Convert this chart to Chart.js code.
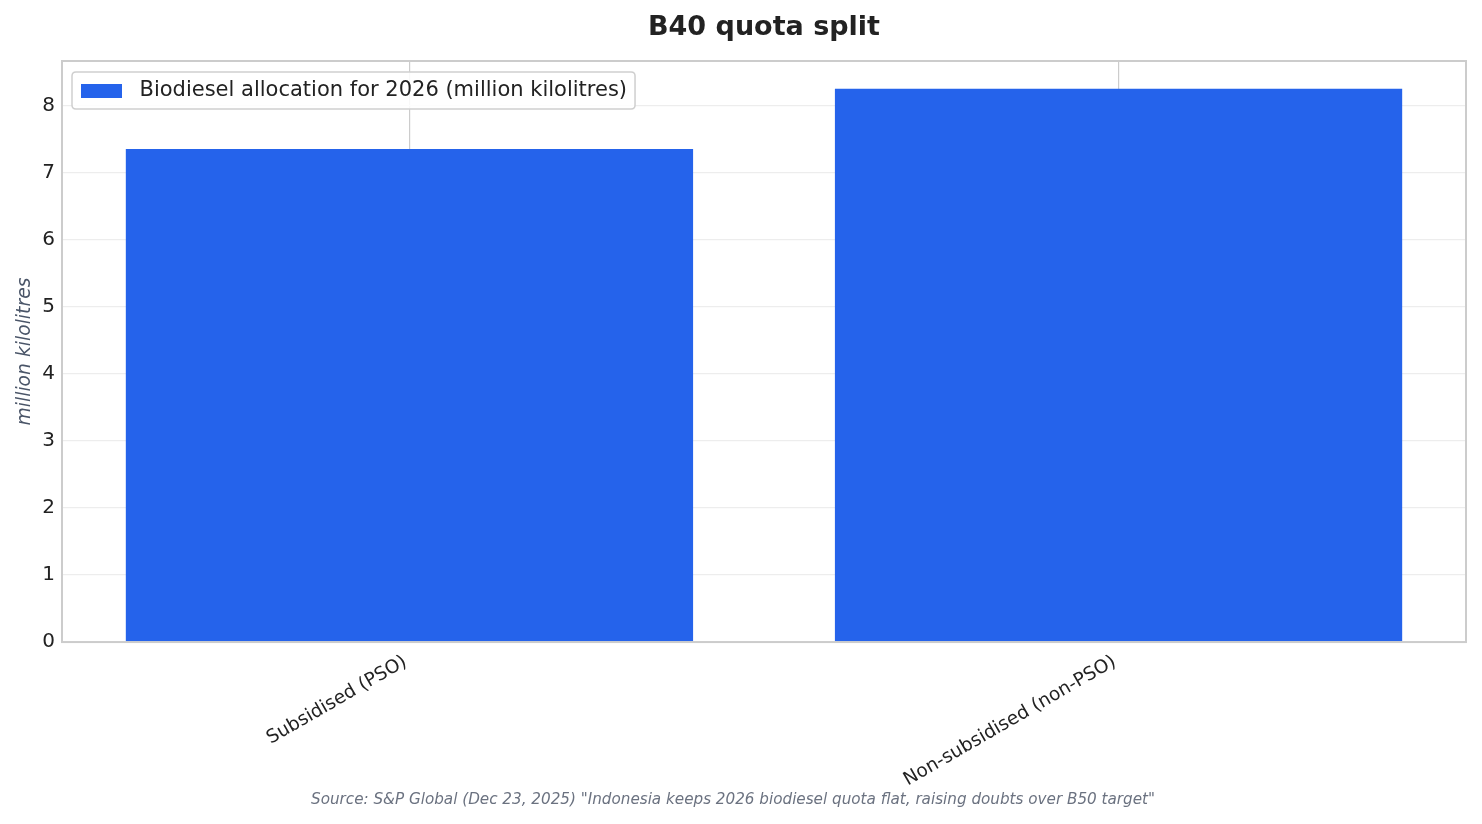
<!DOCTYPE html>
<html>
<head>
<meta charset="utf-8">
<script src="https://cdn.jsdelivr.net/npm/chart.js@4.4.1/dist/chart.umd.min.js"></script>
<style>
  html, body { margin: 0; padding: 0; background: #ffffff; }
  #wrap { width: 1482px; height: 824px; }
</style>
</head>
<body>
<div id="wrap"><canvas id="c" width="1482" height="824"></canvas></div>
<script>
// ---- data ----
const categories = ["Subsidised (PSO)", "Non-subsidised (non-PSO)"];
const allocation = [7.35, 8.25];
const seriesLabel = "Biodiesel allocation for 2026 (million kilolitres)";
const yTicks = [0, 1, 2, 3, 4, 5, 6, 7, 8];
const chartTitle = "B40 quota split";
const yAxisTitle = "million kilolitres";
const sourceText = 'Source: S&P Global (Dec 23, 2025) "Indonesia keeps 2026 biodiesel quota flat, raising doubts over B50 target"';

const FONT = "'DejaVu Sans', 'Liberation Sans', sans-serif";
const BAR_COLOR = "#2563eb";
const LEG_PAD = 19;

// legend swatch drawn on a small canvas (swatch + spacing)
const swatch = document.createElement('canvas');
swatch.width = 48; swatch.height = 14;
(function () {
  const g = swatch.getContext('2d');
  g.fillStyle = BAR_COLOR;
  g.fillRect(0, 0, 41, 14);
})();

const yMax = Math.max(...allocation) * 1.05;

const framePlugin = {
  id: 'framePlugin',
  beforeLayout(chart) {
    const lg = chart.legend;
    if (lg && !lg._zPatched) {
      lg._layers = () => [{ z: 1, draw: (ca) => lg.draw(ca) }];
      lg._zPatched = true;
    }
  },
  afterLayout(chart) {
    const lg = chart.legend;
    const a = chart.chartArea;
    if (lg && a) {
      lg.top = a.top;
      lg.bottom = a.bottom;
      lg.left = a.left;
    }
  },
  afterDatasetsDraw(chart) {
    const ctx = chart.ctx;
    const a = chart.chartArea;
    ctx.save();
    // axes frame
    ctx.strokeStyle = '#cccccc';
    ctx.lineWidth = 2;
    ctx.strokeRect(a.left, a.top, a.right - a.left, a.bottom - a.top);
    // legend frame
    const lg = chart.legend;
    if (lg && lg.legendHitBoxes && lg.legendHitBoxes.length) {
      const hb = lg.legendHitBoxes[0];
      const x = a.left + LEG_PAD - 9, y = a.top + LEG_PAD - 8, w = hb.width + 17, h = 37, r = 4;
      ctx.beginPath();
      ctx.moveTo(x + r, y);
      ctx.lineTo(x + w - r, y);
      ctx.quadraticCurveTo(x + w, y, x + w, y + r);
      ctx.lineTo(x + w, y + h - r);
      ctx.quadraticCurveTo(x + w, y + h, x + w - r, y + h);
      ctx.lineTo(x + r, y + h);
      ctx.quadraticCurveTo(x, y + h, x, y + h - r);
      ctx.lineTo(x, y + r);
      ctx.quadraticCurveTo(x, y, x + r, y);
      ctx.closePath();
      ctx.fillStyle = 'rgba(255,255,255,0.85)';
      ctx.fill();
      ctx.strokeStyle = '#cfcfcf';
      ctx.lineWidth = 1.5;
      ctx.stroke();
    }
    ctx.restore();
  }
};

new Chart(document.getElementById('c'), {
  type: 'bar',
  data: {
    datasets: [{
      label: seriesLabel,
      data: categories.map((c, i) => ({ x: i, y: allocation[i] })),
      backgroundColor: BAR_COLOR,
      borderWidth: 0,
      barPercentage: 0.8,
      categoryPercentage: 1.0
    }]
  },
  options: {
    responsive: false,
    animation: false,
    devicePixelRatio: 1,
    layout: { padding: { left: 0, right: 16, top: 0, bottom: 0 } },
    scales: {
      x: {
        type: 'linear',
        offset: false,
        min: -0.49,
        max: 1.49,
        afterBuildTicks: (scale) => { scale.ticks = categories.map((c, i) => ({ value: i })); },
        afterFit: (scale) => { scale.height = 148.8; },
        grid: { offset: false, color: '#cccccc', lineWidth: 1.2, drawTicks: false },
        border: { display: false },
        ticks: {
          autoSkip: false,
          minRotation: 30,
          maxRotation: 30,
          padding: 9,
          labelOffset: -4,
          color: '#222222',
          font: { family: FONT, size: 18.6 },
          callback: (v) => categories[v]
        }
      },
      y: {
        min: 0,
        max: yMax,
        afterBuildTicks: (scale) => { scale.ticks = yTicks.map(v => ({ value: v })); },
        afterFit: (scale) => { scale.width = 62; },
        grid: { color: '#ededed', lineWidth: 1.2, drawTicks: false },
        border: { display: false },
        ticks: {
          padding: 7,
          color: '#222222',
          font: { family: FONT, size: 20 }
        },
        title: {
          display: true,
          text: yAxisTitle,
          color: '#4a5568',
          font: { family: FONT, size: 18.75, style: 'italic' },
          padding: { top: 14, bottom: 0 }
        }
      }
    },
    plugins: {
      title: {
        display: true,
        text: chartTitle,
        fullSize: false,
        color: '#222222',
        font: { family: FONT, size: 27, weight: 'bold' },
        padding: { top: 12, bottom: 16.6 }
      },
      subtitle: {
        display: true,
        text: sourceText,
        position: 'bottom',
        color: '#6b7280',
        font: { family: FONT, size: 15.2, style: 'italic' },
        padding: { top: 0, bottom: 14.9 }
      },
      legend: {
        display: true,
        position: 'chartArea',
        align: 'start',
        labels: {
          usePointStyle: true,
          pointStyle: swatch,
          pointStyleWidth: 48,
          boxHeight: 14,
          padding: LEG_PAD,
          color: '#222222',
          font: { family: FONT, size: 21 }
        }
      },
      tooltip: { enabled: false }
    }
  },
  plugins: [framePlugin]
});
</script>
</body>
</html>
